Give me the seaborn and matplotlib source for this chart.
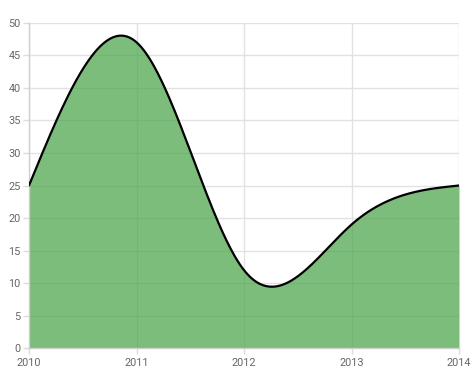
import numpy as np
import pandas as pd
import seaborn as sns
import matplotlib
matplotlib.use("Agg")
import matplotlib.pyplot as plt

years = [2010, 2011, 2012, 2013, 2014]
values = [25, 47, 12, 19, 25]
y_ticks = [0, 5, 10, 15, 20, 25, 30, 35, 40, 45, 50]

sns.set_theme(style="white")
plt.rcParams['font.family'] = ['Roboto', 'DejaVu Sans']

# natural cubic spline through the data points (smooth rendering)
x = np.array(years, dtype=float)
y = np.array(values, dtype=float)
n = len(x)
h = np.diff(x)
A = np.zeros((n, n))
b = np.zeros(n)
A[0, 0] = 1
A[-1, -1] = 1
for i in range(1, n - 1):
    A[i, i - 1] = h[i - 1]
    A[i, i] = 2 * (h[i - 1] + h[i])
    A[i, i + 1] = h[i]
    b[i] = 6 * ((y[i + 1] - y[i]) / h[i] - (y[i] - y[i - 1]) / h[i - 1])
M = np.linalg.solve(A, b)
xs, ys = [], []
for i in range(n - 1):
    t = np.linspace(x[i], x[i + 1], 80, endpoint=(i == n - 2))
    a = x[i + 1] - t
    c = t - x[i]
    s = (M[i] * a**3 / (6 * h[i]) + M[i + 1] * c**3 / (6 * h[i])
         + (y[i] / h[i] - M[i] * h[i] / 6) * a
         + (y[i + 1] / h[i] - M[i + 1] * h[i] / 6) * c)
    xs.extend(t)
    ys.extend(s)
curve = pd.DataFrame({"year": xs, "value": ys})

fig = plt.figure(figsize=(4.74, 3.82), dpi=100)
ax = fig.add_axes([29 / 474, 1 - 348.3 / 382, 430 / 474, (348.3 - 22.7) / 382])

ax.fill_between(curve["year"], curve["value"], 0, color=(69/255, 162/255, 69/255), alpha=0.7, lw=0, zorder=2)
sns.lineplot(data=curve, x="year", y="value", color="black", lw=1.6, ax=ax, zorder=3, sort=False)

ax.set_xlim(2010, 2014)
ax.set_ylim(0, 50)
ax.set_xticks(years)
ax.set_xticklabels([str(v) for v in years])
ax.set_yticks(y_ticks)
ax.set_xlabel("")
ax.set_ylabel("")
ax.grid(True, color="#e2e2e2", lw=1, zorder=0)
ax.set_axisbelow(True)
for side in ["top", "right"]:
    ax.spines[side].set_visible(False)
for side in ["left", "bottom"]:
    ax.spines[side].set_color("#cfcfcf")
    ax.spines[side].set_linewidth(1)
ax.tick_params(axis="both", length=4, width=1, color="#dcdcdc", labelsize=7.8,
               labelcolor="#666666", direction="out", left=True, bottom=True)
ax.tick_params(axis="x", pad=3)
ax.tick_params(axis="y", pad=2)

fig.savefig("out.png", dpi=100)
